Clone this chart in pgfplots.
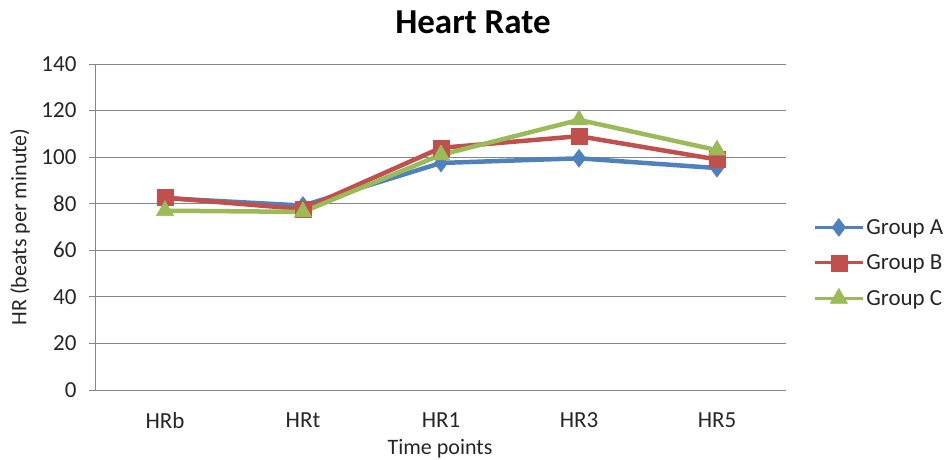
\documentclass[border=0pt]{standalone}
\usepackage{fontspec}
\setmainfont{Carlito}
\usepackage{pgfplots}
\pgfplotsset{compat=1.18}
\definecolor{cA}{HTML}{4F81BD}
\definecolor{cB}{HTML}{C0504D}
\definecolor{cC}{HTML}{9BBB59}
\definecolor{gridc}{HTML}{868686}
\definecolor{txt}{HTML}{262626}
\begin{document}
\begin{tikzpicture}[x=1pt,y=1pt]
\begin{axis}[
  scale only axis,
  width=690pt, height=326pt,
  at={(0,0)}, anchor=south west,
  xmin=-0.5, xmax=4.5, ymin=0, ymax=140,
  xtick={0,1,2,3,4},
  xticklabels={HRb,HRt,HR1,HR3,HR5},
  ytick={0,20,...,140},
  major x tick style={draw=none},
  y tick style={gridc, line width=1pt},
  ytick pos=left,
  tick align=outside,
  major tick length=7pt,
  ymajorgrids,
  grid style={gridc, line width=1pt},
  axis x line*=bottom,
  axis y line*=left,
  axis line style={gridc, line width=1pt, -},
  tick label style={font=\fontsize{23}{27}\selectfont, text=txt},
  /pgf/number format/assume math mode=true,
  yticklabel style={xshift=-9pt},
  xticklabel style={yshift=-12pt},
  legend style={at={(1.035,0.39)}, anchor=west, draw=none, fill=none,
     font=\fontsize{23}{27}\selectfont, text=txt, row sep=15pt},
  legend cell align=left,
  legend image code/.code={
     \draw[#1, line width=3pt, mark repeat=2, mark phase=2] plot coordinates {(0pt,0pt) (24pt,0pt) (48pt,0pt)};},
  clip=false,
]
\addplot[cA, line width=4.5pt, mark=diamond*, mark size=9pt, mark options={line width=0.5pt}] coordinates {(0,82.4) (1,79.2) (2,97.5) (3,99.5) (4,95.3)};
\addlegendentry{Group A}
\addplot[cB, line width=4.5pt, mark=square*, mark size=8pt, mark options={line width=0.5pt}] coordinates {(0,82.6) (1,77.7) (2,104) (3,109) (4,99)};
\addlegendentry{Group B}
\addplot[cC, line width=4.5pt, mark=triangle*, mark size=10pt, mark options={line width=0.5pt}] coordinates {(0,77) (1,76.5) (2,101) (3,116) (4,103)};
\addlegendentry{Group C}
\end{axis}
\node[font=\bfseries\fontsize{35}{40}\selectfont, text=black] at (377,368) {Heart Rate};
\node[font=\fontsize{22}{26}\selectfont, text=txt, rotate=90] at (-76,163) {HR (beats per minute)};
\node[font=\fontsize{22}{26}\selectfont, text=txt] at (344,-59) {Time points};
\pgfresetboundingbox
\useasboundingbox (-96,-69) rectangle (854,390);
\end{tikzpicture}
\end{document}
